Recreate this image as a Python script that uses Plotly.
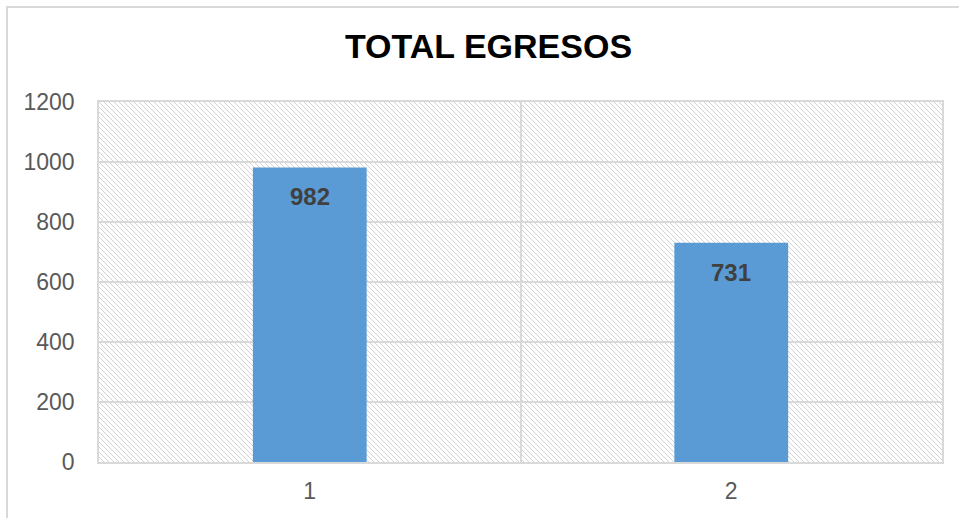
import plotly.graph_objects as go
import base64

categories = ["1", "2"]
values = [982, 731]
y_ticks = [0, 200, 400, 600, 800, 1000, 1200]
title_text = "TOTAL EGRESOS"

W, H = 959, 518
ml, mr, mt, mb = 99, 17, 102, 56
pw, ph = W - ml - mr, H - mt - mb
FONT = "Liberation Sans, Arial, sans-serif"

P = 5
svg = f'''<svg xmlns="http://www.w3.org/2000/svg" width="{pw}" height="{ph}" viewBox="0 0 {pw} {ph}" preserveAspectRatio="none">
<defs><pattern id="h" patternUnits="userSpaceOnUse" width="{P}" height="{P}">
<path d="M-1,-1 L{P+1},{P+1} M-1,{P-1} L1,{P+1} M{P-1},-1 L{P+1},1" stroke="#d2d2d2" stroke-width="1"/>
</pattern></defs>
<rect width="{pw}" height="{ph}" fill="white"/>
<rect width="{pw}" height="{ph}" fill="url(#h)"/>
</svg>'''
svg_uri = "data:image/svg+xml;base64," + base64.b64encode(svg.encode()).decode()

fig = go.Figure()
fig.add_trace(go.Bar(
    x=categories, y=values,
    marker=dict(color="#5B9BD5", line=dict(width=0)),
    width=0.27,
    hoverinfo="skip",
))

annotations = [dict(x=i, y=v, xref="x", yref="y", text=f"<b>{v}</b>", showarrow=False,
                    yanchor="top", yshift=-14,
                    font=dict(family=FONT, size=24, color="#404040"))
               for i, v in enumerate(values)]

fig.update_layout(
    width=W, height=H,
    margin=dict(l=ml, r=mr, t=mt, b=mb),
    paper_bgcolor="white",
    plot_bgcolor="white",
    showlegend=False,
    title=dict(text=f"<b>{title_text}</b>", x=488.5 / W, xref="container", yref="container",
               xanchor="center", y=1 - 46 / H, yanchor="middle",
               font=dict(family=FONT, size=34, color="#000000")),
    xaxis=dict(
        type="category", tickson="boundaries", showgrid=True, gridcolor="#d9d9d9", gridwidth=1.5,
        showline=True, linecolor="#d9d9d9", linewidth=1.5, mirror=True,
        ticks="", ticklabelstandoff=8,
        tickfont=dict(family=FONT, size=23, color="#595959"),
        range=[-0.5, 1.5], fixedrange=True,
    ),
    yaxis=dict(
        range=[0, 1200], tickvals=y_ticks, showgrid=True, gridcolor="#d9d9d9", gridwidth=1.5,
        showline=True, linecolor="#d9d9d9", linewidth=1.5, mirror=True, zeroline=False,
        ticks="", ticklabelstandoff=18,
        tickfont=dict(family=FONT, size=23, color="#595959"),
        fixedrange=True,
    ),
    annotations=annotations,
    images=[dict(source=svg_uri, xref="paper", yref="paper", x=0, y=1, sizex=1, sizey=1,
                 xanchor="left", yanchor="top", sizing="stretch", layer="below")],
    shapes=[dict(type="rect", xref="paper", yref="paper",
                 x0=(7 - ml) / pw, x1=(W + 5 - ml) / pw,
                 y0=-(H + 5 - mt - ph) / ph, y1=1 + (mt - 7) / ph,
                 line=dict(color="#d9d9d9", width=2), fillcolor="rgba(0,0,0,0)", layer="below")],
)

fig.write_html("out.html", config={"displayModeBar": False},
               post_script="document.body.style.margin='0';document.body.style.overflow='hidden';")
